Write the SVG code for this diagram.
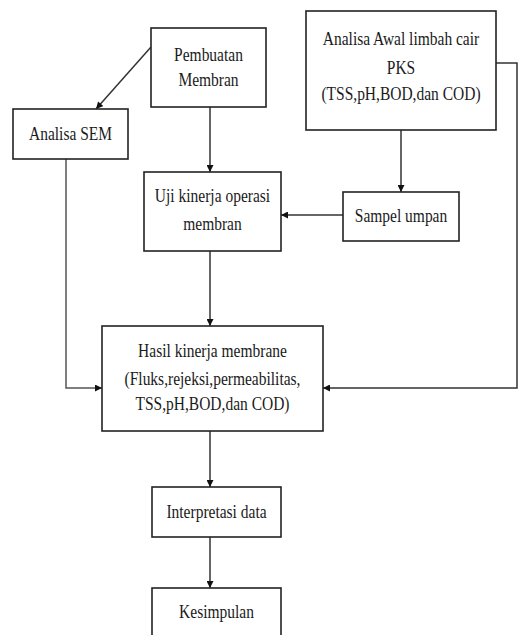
<svg xmlns="http://www.w3.org/2000/svg" width="518" height="635" viewBox="0 0 518 635">
<style>
.box{fill:#fff;stroke:#222;stroke-width:1.6}
.c{fill:none;stroke:#333;stroke-width:1.5}
.t{font-family:"Liberation Serif","Times New Roman",serif;font-size:15.5px;fill:#1a1a1a;text-anchor:middle}
</style>
<defs>
<marker id="ah" viewBox="0 0 10 10" refX="10" refY="5" markerWidth="8" markerHeight="7" markerUnits="userSpaceOnUse" orient="auto">
<path d="M0,0 L10,5 L0,10 Z" fill="#111"/>
</marker>
</defs>
<rect width="518" height="635" fill="#fff"/>
<g id="connectors">
<path class="c" d="M151,47 L96,109" marker-end="url(#ah)"/>
<path class="c" d="M210,107 L210,172" marker-end="url(#ah)"/>
<path class="c" d="M66,159 L66,388 L102,388" marker-end="url(#ah)" style="stroke:#555"/>
<path class="c" d="M401,130 L401,192" marker-end="url(#ah)"/>
<path class="c" d="M343,215 L281,215" marker-end="url(#ah)"/>
<path class="c" d="M210,251 L210,326" marker-end="url(#ah)"/>
<path class="c" d="M496,63 L517,63 L517,388 L323,388" marker-end="url(#ah)"/>
<path class="c" d="M210,431 L210,487" marker-end="url(#ah)"/>
<path class="c" d="M210,537 L210,588" marker-end="url(#ah)"/>
</g>
<g id="pembuatan">
<rect class="box" x="151" y="28" width="115" height="79"/>
<text class="t" transform="translate(208.5,61) scale(1,1.18)">Pembuatan</text>
<text class="t" transform="translate(208.5,86) scale(1,1.18)">Membran</text>
</g>
<g id="analisa-sem">
<rect class="box" x="13" y="109" width="115" height="50"/>
<text class="t" transform="translate(70.5,140) scale(1,1.18)">Analisa SEM</text>
</g>
<g id="analisa-awal">
<rect class="box" x="306" y="11" width="190" height="119"/>
<text class="t" transform="translate(401,45) scale(1,1.18)">Analisa Awal limbah cair</text>
<text class="t" transform="translate(401,74) scale(1,1.18)">PKS</text>
<text class="t" transform="translate(401,100) scale(1,1.18)">(TSS,pH,BOD,dan COD)</text>
</g>
<g id="uji-kinerja">
<rect class="box" x="144" y="172" width="137" height="79"/>
<text class="t" transform="translate(212.5,202) scale(1,1.18)">Uji kinerja operasi</text>
<text class="t" transform="translate(212.5,230) scale(1,1.18)">membran</text>
</g>
<g id="sampel-umpan">
<rect class="box" x="343" y="192" width="116" height="49"/>
<text class="t" transform="translate(401,222) scale(1,1.18)">Sampel umpan</text>
</g>
<g id="hasil-kinerja">
<rect class="box" x="102" y="326" width="221" height="105"/>
<text class="t" transform="translate(212.5,357) scale(1,1.18)">Hasil kinerja membrane</text>
<text class="t" transform="translate(212.5,385) scale(1,1.18)">(Fluks,rejeksi,permeabilitas,</text>
<text class="t" transform="translate(212.5,410) scale(1,1.18)">TSS,pH,BOD,dan COD)</text>
</g>
<g id="interpretasi">
<rect class="box" x="152" y="487" width="129" height="50"/>
<text class="t" transform="translate(216.5,518) scale(1,1.18)">Interpretasi data</text>
</g>
<g id="kesimpulan">
<rect class="box" x="152" y="588" width="129" height="60"/>
<text class="t" transform="translate(216.5,618) scale(1,1.18)">Kesimpulan</text>
</g>
</svg>
